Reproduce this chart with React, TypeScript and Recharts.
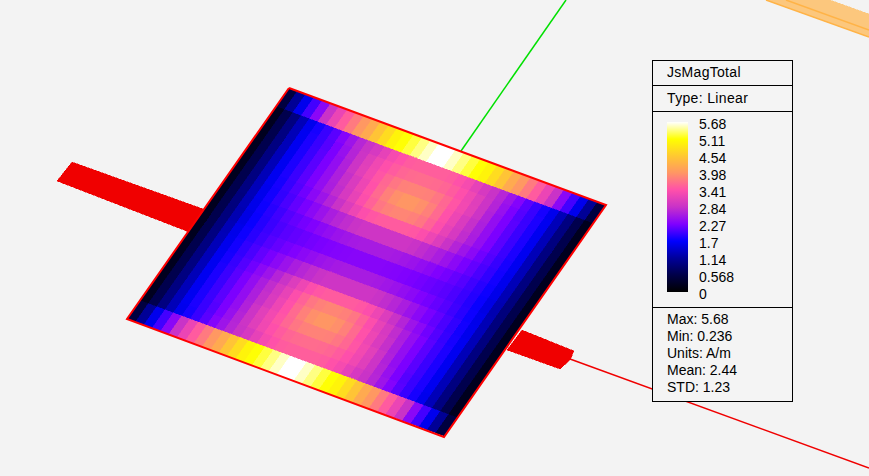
import React from 'react';
import { ScatterChart, Scatter, XAxis, YAxis } from 'recharts';

const W = 869;
const H = 476;

// colour scale of the legend
const scaleValues = [0, 0.568, 1.14, 1.7, 2.27, 2.84, 3.41, 3.98, 4.54, 5.11, 5.68];
const scaleColors = ['#000000', '#000048', '#00009c', '#0000ff', '#8000ff', '#c832c8', '#ff50aa', '#ff9664', '#ffc832', '#ffff00', '#ffffff'];
const tickLabels = ['5.68', '5.11', '4.54', '3.98', '3.41', '2.84', '2.27', '1.7', '1.14', '0.568', '0'];
const statLabels = ['Max: 5.68', 'Min: 0.236', 'Units: A/m', 'Mean: 2.44', 'STD: 1.23'];

// row edges across the plate, 0 = far edge, 1 = near edge
const rowEdges = [0, 0.08, 0.125, 0.17, 0.215, 0.27, 0.315, 0.36, 0.42, 0.47, 0.53, 0.58, 0.64, 0.685, 0.73, 0.785, 0.83, 0.875, 0.92, 1];

// JsMag for one quarter of the plate (edge to centre column,
// far edge to centre row); the plot is symmetric so the rest is mirrored below
const quarterValues = [
  [0.5, 1.1, 1.6, 2.0, 2.35, 2.85, 3.2, 3.5, 3.75, 4.0, 4.2, 4.5, 4.75, 5.0, 5.12, 5.25, 5.4, 5.55, 5.68],
  [0.24, 0.6, 0.95, 1.3, 1.6, 1.8, 1.95, 2.1, 2.3, 2.5, 2.7, 2.85, 2.98, 3.15, 3.32, 3.42, 3.5, 3.52, 3.52],
  [0.24, 0.6, 0.95, 1.3, 1.62, 1.82, 1.95, 2.08, 2.25, 2.45, 2.68, 2.88, 3.08, 3.25, 3.4, 3.5, 3.58, 3.62, 3.64],
  [0.24, 0.6, 0.95, 1.3, 1.62, 1.82, 1.96, 2.1, 2.25, 2.42, 2.65, 2.88, 3.1, 3.28, 3.45, 3.6, 3.72, 3.8, 3.82],
  [0.24, 0.6, 0.95, 1.3, 1.62, 1.82, 1.96, 2.1, 2.25, 2.42, 2.62, 2.82, 3.02, 3.22, 3.42, 3.62, 3.8, 3.92, 3.98],
  [0.24, 0.6, 0.95, 1.3, 1.62, 1.82, 1.96, 2.1, 2.25, 2.42, 2.6, 2.78, 2.98, 3.16, 3.38, 3.56, 3.72, 3.8, 3.84],
  [0.24, 0.6, 0.95, 1.3, 1.62, 1.8, 1.94, 2.07, 2.2, 2.36, 2.5, 2.68, 2.85, 3.05, 3.22, 3.38, 3.46, 3.5, 3.5],
  [0.24, 0.6, 0.95, 1.3, 1.6, 1.78, 1.92, 2.03, 2.14, 2.24, 2.36, 2.48, 2.6, 2.7, 2.78, 2.85, 2.9, 2.9, 2.9],
  [0.24, 0.6, 0.93, 1.28, 1.58, 1.76, 1.88, 1.98, 2.08, 2.15, 2.22, 2.28, 2.36, 2.42, 2.48, 2.52, 2.56, 2.58, 2.58],
  [0.24, 0.6, 0.92, 1.26, 1.55, 1.74, 1.86, 1.96, 2.04, 2.1, 2.14, 2.18, 2.22, 2.25, 2.28, 2.3, 2.32, 2.33, 2.33],
];

// plate corners
const A = { x: 289, y: 88 };
const B = { x: 606, y: 205 };
const D = { x: 127, y: 319 };

const plateOutline = [A, B, { x: 444, y: 437 }, D, A];
const greenAxis = [{ x: 461, y: 151 }, { x: 566, y: 0 }];
const redWire = [{ x: 570, y: 359 }, { x: 869, y: 468 }];
const orangeEdge = [{ x: 786, y: 0 }, { x: 869, y: 30 }];
const orangeEdge2 = [{ x: 766, y: 0 }, { x: 869, y: 37 }];

const feedLeft = [{ x: 72, y: 162 }, { x: 206, y: 210 }, { x: 189, y: 232 }, { x: 57, y: 181 }];
const feedRight = [{ x: 522, y: 330 }, { x: 574, y: 351 }, { x: 570, y: 360 }, { x: 560, y: 369 }, { x: 507, y: 350 }];
const orangeStrip = [{ x: 766, y: 0 }, { x: 830, y: 0 }, { x: 869, y: 14 }, { x: 869, y: 37 }];

const colorOf = (v: number) => {
  let i = 0;
  while (i < scaleValues.length - 1 && v >= scaleValues[i + 1]) i++;
  if (i === scaleValues.length - 1) return scaleColors[i];
  const t = (v - scaleValues[i]) / (scaleValues[i + 1] - scaleValues[i]);
  const a = scaleColors[i];
  const b = scaleColors[i + 1];
  const mix = (k: number) => {
    const p = parseInt(a.slice(k, k + 2), 16);
    const q = parseInt(b.slice(k, k + 2), 16);
    return Math.round(p + (q - p) * t);
  };
  return `rgb(${mix(1)},${mix(3)},${mix(5)})`;
};

const at = (u: number, v: number) => ({
  x: A.x + u * (B.x - A.x) + v * (D.x - A.x),
  y: A.y + u * (B.y - A.y) + v * (D.y - A.y),
});

const quad = (pts: { x: number; y: number }[], fill: string) => ({
  x: pts[0].x,
  y: pts[0].y,
  fill,
  pts,
});

const rowCount = rowEdges.length - 1;
const fullRows = Array.from({ length: rowCount }, (_, r) => {
  const q = quarterValues[r < quarterValues.length ? r : rowCount - 1 - r];
  return [...q, ...[...q].reverse()];
});

const cells = fullRows.flatMap((vals, r) =>
  vals.map((val, c) => {
    const u0 = c / vals.length;
    const u1 = (c + 1) / vals.length;
    const v0 = rowEdges[r];
    const v1 = rowEdges[r + 1];
    return quad([at(u0, v0), at(u1, v0), at(u1, v1), at(u0, v1)], colorOf(val));
  })
);

const PolyShape = (props: any) => {
  const { cx, cy, payload } = props;
  const { pts, fill } = payload;
  const points = pts.map((p: any) => `${cx + p.x - pts[0].x},${cy + p.y - pts[0].y}`).join(' ');
  return <polygon points={points} fill={fill} stroke={fill} strokeWidth={0.5} shapeRendering="crispEdges" />;
};

const NoDot = () => <g />;

const text: React.CSSProperties = {
  position: 'absolute',
  fontFamily: '"Liberation Sans", Arial, sans-serif',
  fontSize: 14,
  lineHeight: '16px',
  color: '#000',
  whiteSpace: 'nowrap',
};

const rule = (top: number): React.CSSProperties => ({
  position: 'absolute',
  left: 0,
  top,
  width: 139,
  height: 1,
  background: '#000',
});

const ScaleLegend = () => {
  const stops = scaleValues
    .map((v, i) => `${scaleColors[i]} ${(v / 5.68) * 100}%`)
    .join(',');
  return (
    <div style={{ position: 'absolute', left: 652, top: 60, width: 139, height: 340, border: '1px solid #000', background: '#f4f4f4' }}>
      <div style={{ ...text, left: 14, top: 3, letterSpacing: 0.3 }}>JsMagTotal</div>
      <div style={rule(24)} />
      <div style={{ ...text, left: 14, top: 29, letterSpacing: 0.35 }}>Type: Linear</div>
      <div style={rule(50)} />
      <div style={{ position: 'absolute', left: 14, top: 61, width: 21, height: 170, background: `linear-gradient(to top, ${stops})` }} />
      {tickLabels.map((t, i) => (
        <div key={t} style={{ ...text, left: 46, top: 54.5 + i * 17 }}>{t}</div>
      ))}
      <div style={rule(246)} />
      {statLabels.map((t, i) => (
        <div key={t} style={{ ...text, left: 14, top: 250 + i * 17 }}>{t}</div>
      ))}
    </div>
  );
};

const App = () => (
  <div style={{ position: 'relative', width: W, height: H, background: '#f3f3f3', overflow: 'hidden' }}>
    <style>{'body{margin:0}'}</style>
    <ScatterChart width={W} height={H} margin={{ top: 0, right: 0, bottom: 0, left: 0 }}>
      <XAxis type="number" dataKey="x" domain={[0, W]} hide allowDataOverflow />
      <YAxis type="number" dataKey="y" domain={[0, H]} reversed hide allowDataOverflow />
      <Scatter data={[quad(orangeStrip, '#fcc77d')]} shape={PolyShape} isAnimationActive={false} />
      <Scatter data={orangeEdge} line={{ stroke: '#ffb347', strokeWidth: 1.5 }} shape={NoDot} isAnimationActive={false} />
      <Scatter data={orangeEdge2} line={{ stroke: '#ffb347', strokeWidth: 1.5 }} shape={NoDot} isAnimationActive={false} />
      <Scatter data={greenAxis} line={{ stroke: '#00e000', strokeWidth: 1.5 }} shape={NoDot} isAnimationActive={false} />
      <Scatter data={redWire} line={{ stroke: '#f00000', strokeWidth: 1.5 }} shape={NoDot} isAnimationActive={false} />
      <Scatter data={[quad(feedLeft, '#f00000'), quad(feedRight, '#f00000')]} shape={PolyShape} isAnimationActive={false} />
      <Scatter data={cells} shape={PolyShape} isAnimationActive={false} />
      <Scatter data={plateOutline} line={{ stroke: '#ff0000', strokeWidth: 2 }} shape={NoDot} isAnimationActive={false} />
    </ScatterChart>
    <ScaleLegend />
  </div>
);

export default App;
